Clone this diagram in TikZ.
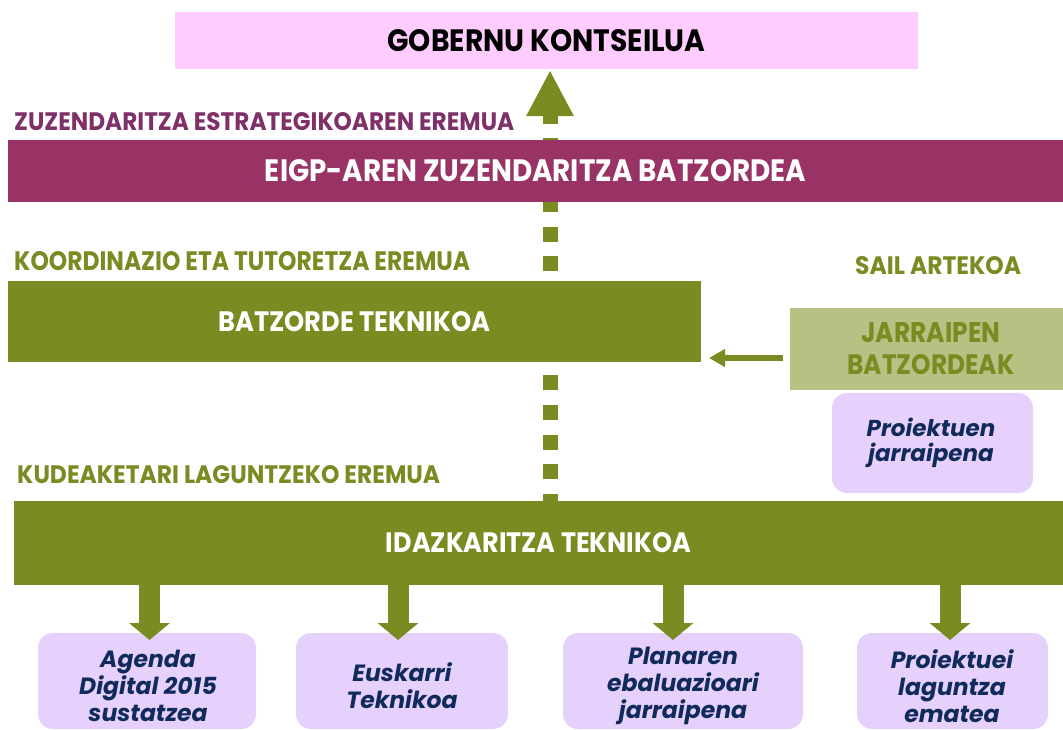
\documentclass[tikz,border=0pt]{standalone}
\usepackage{fontspec}
\setmainfont{Poppins}
\usepackage{graphicx}
\usetikzlibrary{arrows.meta,backgrounds}
\definecolor{olv}{RGB}{122,139,34}
\definecolor{olvlight}{RGB}{184,193,132}
\definecolor{pinkbg}{RGB}{255,204,255}
\definecolor{maroon}{RGB}{153,51,102}
\definecolor{purplelbl}{RGB}{128,48,104}
\definecolor{lav}{RGB}{230,208,252}
\definecolor{navy}{RGB}{16,42,92}
\newcommand\capfit[3]{\resizebox{#1pt}{#2pt}{\bfseries #3}}
\begin{document}
\begin{tikzpicture}[x=1pt,y=-1pt,
  box/.style={anchor=north west,inner sep=0pt,outer sep=0pt,draw=none},
  lavbox/.style={box,fill=lav,rounded corners=15pt},
  lavtext/.style={inner sep=0pt,align=center,text=navy,font=\fontsize{23.5}{27}\selectfont\bfseries\itshape},
  seclabel/.style={anchor=base west,inner sep=0pt},
  dashline/.style={olv,line width=15pt,dash pattern=on 15pt off 14.7pt,dash phase=8pt},
  uparrow/.style={olv,line width=15pt,-{Triangle[width=44pt,length=46pt]}},
  downarrow/.style={olv,line width=21pt,-{Triangle[width=40pt,length=17pt]}},
  leftarrow/.style={olv,line width=6pt,-{Triangle[width=17pt,length=16pt]}}
]
\path[use as bounding box] (0,0) rectangle (1063,729);

% boxes
\node[box,fill=pinkbg,minimum width=743pt,minimum height=57pt] (gob) at (175,12)
  {\capfit{318}{22}{GOBERNU KONTSEILUA}};
\node[box,fill=maroon,text=white,minimum width=1055pt,minimum height=62pt] (eigp) at (8,140)
  {\capfit{541}{22}{EIGP-AREN ZUZENDARITZA BATZORDEA}};
\node[box,fill=olv,text=white,minimum width=693pt,minimum height=81pt] (batz) at (8,281)
  {\capfit{272}{20}{BATZORDE TEKNIKOA}};
\node[box,fill=olvlight,minimum width=273pt,minimum height=82pt] (jarr) at (790,308) {};
\node[inner sep=0pt,align=center,text=olv,font=\fontsize{20}{32}\selectfont] (jarrt) at (931,349)
  {\capfit{139}{20}{JARRAIPEN}\\\capfit{167}{20}{BATZORDEAK}};
\node[lavbox,minimum width=201pt,minimum height=100pt] (proj) at (832,393) {};
\node[lavtext,font=\fontsize{23}{25}\selectfont\bfseries\itshape] (projt) at (931,443) {Proiektuen\\jarraipena};
\node[box,fill=olv,text=white,minimum width=1049pt,minimum height=84pt] (idaz) at (14,501)
  {\capfit{305}{20}{IDAZKARITZA TEKNIKOA}};

\node[lavbox,minimum width=218pt,minimum height=96pt] (b1) at (38,633) {};
\node[lavbox,minimum width=212pt,minimum height=96pt] (b2) at (296,633) {};
\node[lavbox,minimum width=240pt,minimum height=96pt] (b3) at (563,633) {};
\node[lavbox,minimum width=191pt,minimum height=96pt] (b4) at (857,633) {};
\node[lavtext] (t1) at (148,686) {Agenda\\Digital 2015\\sustatzea};
\node[lavtext] (t2) at (402,686) {Euskarri\\Teknikoa};
\node[lavtext] (t3) at (683,686) {Planaren\\ebaluazioari\\jarraipena};
\node[lavtext] (t4) at (952,686) {Proiektuei\\laguntza\\ematea};

% section labels
\node[seclabel,text=purplelbl] (lzuz) at (14,130) {\capfit{500}{18}{ZUZENDARITZA ESTRATEGIKOAREN EREMUA}};
\node[seclabel,text=olv] (lkoord) at (14,270) {\capfit{456}{19}{KOORDINAZIO ETA TUTORETZA EREMUA}};
\node[seclabel,text=olv] (lsail) at (855,274) {\capfit{166}{18}{SAIL ARTEKOA}};
\node[seclabel,text=olv] (lkud) at (17,483) {\capfit{423}{18}{KUDEAKETARI LAGUNTZEKO EREMUA}};

% coordinates
\coordinate (ux) at (550,0);
\coordinate (hb) at (550,124);
\coordinate (ly) at (0,358);
\coordinate (a1) at (149.5,0);
\coordinate (a2) at (398,0);
\coordinate (a3) at (673,0);
\coordinate (a4) at (950,0);

% connectors behind boxes
\begin{scope}[on background layer]
  \draw[dashline] (idaz.north -| ux) -- (hb);
\end{scope}
\draw[uparrow] (hb) -- ([yshift=-1pt]gob.south -| ux);
\draw[leftarrow,shorten <=7pt,shorten >=8pt] (jarr.west |- ly) -- (batz.east |- ly);
\draw[downarrow] (idaz.south -| a1) -- ([yshift=-7pt]b1.north -| a1);
\draw[downarrow] (idaz.south -| a2) -- ([yshift=-7pt]b2.north -| a2);
\draw[downarrow] (idaz.south -| a3) -- ([yshift=-7pt]b3.north -| a3);
\draw[downarrow] (idaz.south -| a4) -- ([yshift=-7pt]b4.north -| a4);
\end{tikzpicture}
\end{document}
